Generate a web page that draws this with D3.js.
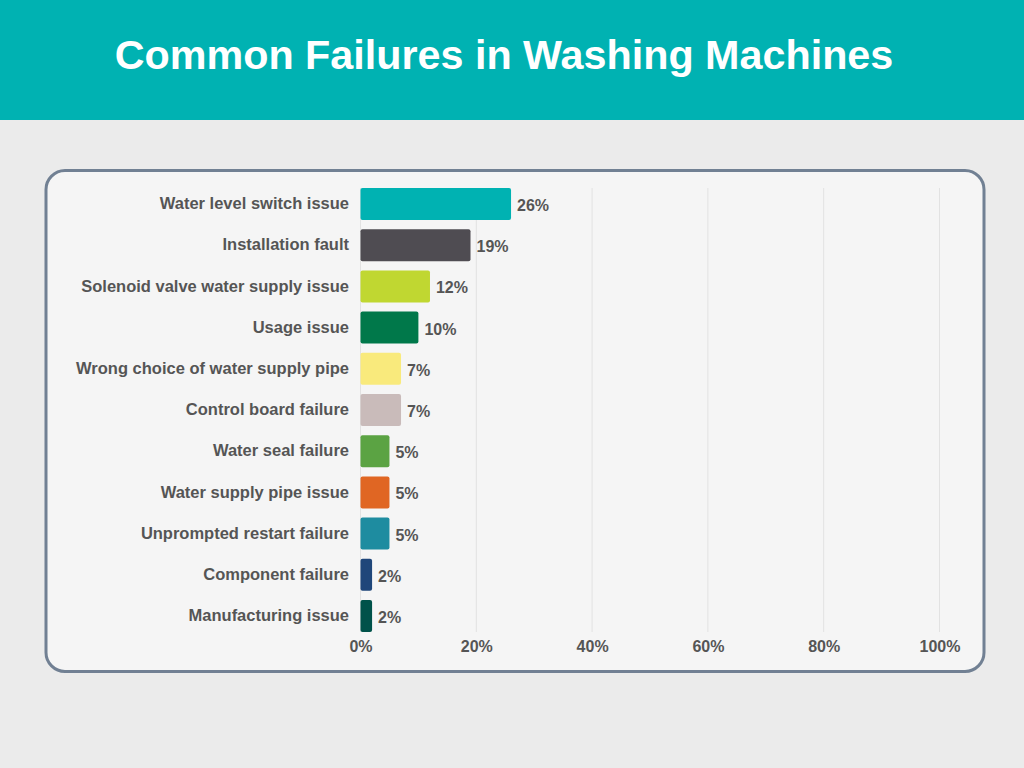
<!DOCTYPE html>
<html>
<head>
<meta charset="utf-8">
<script src="https://cdn.jsdelivr.net/npm/d3@7"></script>
<style>
  html, body { margin: 0; padding: 0; background: #ebebeb; }
  svg { display: block; font-family: "Liberation Sans", Arial, sans-serif; }
</style>
</head>
<body>
<svg id="chart" width="1024" height="768"></svg>
<script>
const title = "Common Failures in Washing Machines";
const categories = [
  "Water level switch issue",
  "Installation fault",
  "Solenoid valve water supply issue",
  "Usage issue",
  "Wrong choice of water supply pipe",
  "Control board failure",
  "Water seal failure",
  "Water supply pipe issue",
  "Unprompted restart failure",
  "Component failure",
  "Manufacturing issue"
];
const values = [26, 19, 12, 10, 7, 7, 5, 5, 5, 2, 2];
const barColors = [
  "#00b2b2", "#4f4c52", "#c0d731", "#00784a", "#f9ea7c", "#c9bbba",
  "#5ba343", "#e06623", "#1e8ca0", "#1f467a", "#00524a"
];
const xTicks = [0, 20, 40, 60, 80, 100];

const svg = d3.select("#chart");
const W = 1024, H = 768;

// background
svg.append("rect").attr("width", W).attr("height", H).attr("fill", "#ebebeb");
// header
svg.append("rect").attr("x", 0).attr("y", 0).attr("width", W).attr("height", 120).attr("fill", "#00b2b2");
svg.append("text")
  .attr("x", 504).attr("y", 69)
  .attr("text-anchor", "middle")
  .attr("fill", "#ffffff")
  .attr("font-size", 41.3)
  .attr("font-weight", "bold")
  .text(title);

// card
svg.append("rect")
  .attr("x", 46).attr("y", 170.5).attr("width", 938).attr("height", 501)
  .attr("rx", 19).attr("ry", 19)
  .attr("fill", "#f5f5f5")
  .attr("stroke", "#718093").attr("stroke-width", 3);

const x = d3.scaleLinear().domain([0, 100]).range([360.5, 939.5]);
const y = d3.scaleBand().domain(categories).range([188, 632]).paddingInner(0.223).paddingOuter(0);

// gridlines
const g = svg.append("g");
g.selectAll("line.grid").data(xTicks).join("line")
  .attr("class", "grid")
  .attr("x1", d => x(d)).attr("x2", d => x(d))
  .attr("y1", 188).attr("y2", 632)
  .attr("stroke", "#e2e2e2").attr("stroke-width", 1);

// x axis
const xAxis = d3.axisBottom(x).tickValues(xTicks).tickFormat(d => d + "%").tickSize(0).tickPadding(0);
const ax = svg.append("g").attr("transform", "translate(0,641)").call(xAxis);
ax.select(".domain").remove();
ax.selectAll("text")
  .attr("font-family", "'Liberation Sans', Arial, sans-serif")
  .attr("font-size", 16).attr("font-weight", "bold").attr("fill", "#555555")
  .attr("dy", "0.71em");

// y axis labels
const yAxis = d3.axisLeft(y).tickSize(0).tickPadding(0);
const ay = svg.append("g").attr("transform", "translate(349,0)").call(yAxis);
ay.select(".domain").remove();
ay.selectAll("text")
  .attr("font-family", "'Liberation Sans', Arial, sans-serif")
  .attr("font-size", 16.5).attr("font-weight", "bold").attr("fill", "#555555");

// bars
svg.selectAll("rect.bar").data(values).join("rect")
  .attr("class", "bar")
  .attr("x", x(0))
  .attr("y", (d, i) => y(categories[i]))
  .attr("width", d => x(d) - x(0))
  .attr("height", y.bandwidth())
  .attr("rx", 2).attr("ry", 2)
  .attr("fill", (d, i) => barColors[i]);

// value labels
svg.selectAll("text.val").data(values).join("text")
  .attr("class", "val")
  .attr("x", d => x(d) + 6)
  .attr("y", (d, i) => y(categories[i]) + y.bandwidth() / 2 + 1)
  .attr("dy", "0.38em")
  .attr("font-size", 16).attr("font-weight", "bold").attr("fill", "#555555")
  .text(d => d + "%");
</script>
</body>
</html>
